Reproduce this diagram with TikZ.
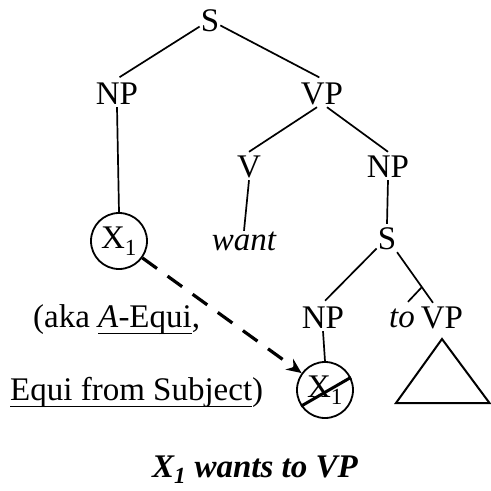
\documentclass[tikz,border=0pt]{standalone}
\usepackage{fontspec}
\setmainfont{Liberation Serif}
\usetikzlibrary{arrows.meta}
% underline set at descender level
\newcommand\ulined[1]{\setbox0\hbox{#1}\rlap{\rule[-7pt]{\wd0}{1.4pt}}\box0}
\begin{document}
\begin{tikzpicture}[x=1pt,y=1pt,
  lab/.style={font=\fontsize{33}{36}\selectfont, inner xsep=1pt, inner ysep=3pt,
              text height=22pt, text depth=0pt, anchor=base},
  word/.style={lab, text height=16pt, font=\fontsize{33}{36}\selectfont\itshape},
  edge/.style={line width=1.7pt},
  ring/.style={circle, draw, line width=1.8pt, minimum size=56pt, inner sep=0pt,
               font=\fontsize{33}{36}\selectfont},
  note/.style={font=\fontsize{33}{36}\selectfont, anchor=base west, inner sep=0pt},
  link/.style={line width=3.2pt, dash pattern=on 18pt off 13pt,
               -{Stealth[length=15pt,width=13pt]}}
]
\useasboundingbox (0,0) rectangle (491,-491);

% tree labels
\node[lab] (S)   at (210,-31)  {S};
\node[lab] (NPa) at (117,-104) {NP};
\node[lab] (VPa) at (322,-104) {VP};
\node[lab] (Va)  at (249,-177) {V};
\node[lab] (NPb) at (388,-177) {NP};
\node[word] (want) at (244,-250) {want};
\node[lab] (Sb)  at (387,-249) {S};
\node[lab] (NPc) at (323,-328) {NP};
\node[word, text height=22pt] (to) at (402,-327) {to};
\node[lab] (VPc) at (442,-328) {VP};

% controller and deleted subject
\node[ring] (X1) at (119,-241) {X\textsubscript{1}};
\node[ring] (X2) at (325,-390) {X\textsubscript{1}};
\draw[line width=3pt] (X2.214) -- (X2.26);

% branches
\draw[edge, shorten >=3pt] (S) -- (NPa.north);
\draw[edge, shorten >=3pt] (S) -- (VPa.north);
\draw[edge] ([xshift=-5pt]VPa.south) -- (Va.north);
\draw[edge] ([xshift=5pt]VPa.south) -- (NPb.north);
\draw[edge] (NPa.south) -- (X1.north);
\draw[edge] (Va.south) -- (want.north);
\draw[edge] (NPb.south) -- (Sb.north);
\draw[edge, shorten >=3pt] (Sb) -- (NPc.north);
\draw[edge] (Sb) -- coordinate[pos=0.69] (fork) ([xshift=-9pt]VPc.north);
\draw[edge] (fork) -- ([xshift=6pt]to.north);
\draw[edge] (NPc.south) -- (X2.north);

% unexpanded VP
\coordinate (apex) at (442,-339);
\coordinate (baseL) at (396,-403);
\coordinate (baseR) at (489.5,-403);
\draw[line width=2pt, line join=miter] (apex) -- (baseL) -- (baseR) -- cycle;

% coindexing arrow
\draw[link] (X1) -- (X2);

% side remark and caption
\node[note] (aka) at (33,-327) {(aka \ulined{\textit{A}-Equi},};
\node[note] (efs) at (10,-400) {\ulined{Equi from Subject})};
\node[note, font=\fontsize{33}{36}\selectfont\bfseries\itshape] (cap) at (152,-477)
  {X\textsubscript{1} wants to VP};
\end{tikzpicture}
\end{document}
